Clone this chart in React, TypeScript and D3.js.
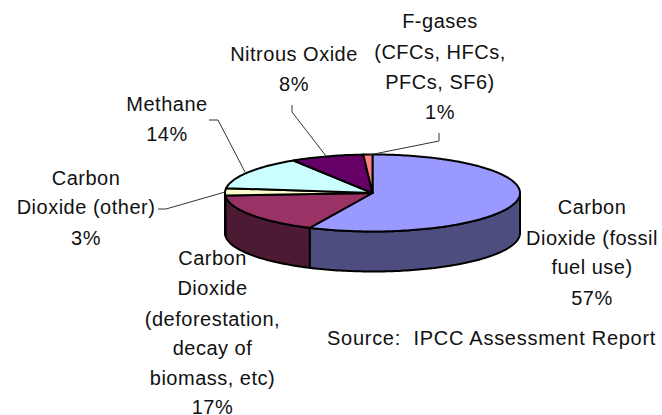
import React from "react";
import * as d3 from "d3";

const names = ["Carbon Dioxide (fossil fuel use)", "Carbon Dioxide (deforestation, decay of biomass, etc)", "Carbon Dioxide (other)", "Methane", "Nitrous Oxide", "F-gases (CFCs, HFCs, PFCs, SF6)"];
const shares = [57, 17, 3, 14, 8, 1];
const topColors = ["#9999ff", "#993366", "#ffffcc", "#ccffff", "#660066", "#ff8080"];
const sideColors = ["#4d4d80", "#4d1a33", "#808066", "#668080", "#330033", "#804040"];

const labelLines = [
  { x: 592, ys: [214, 245, 274, 305], lines: ["Carbon", "Dioxide (fossil", "fuel use)", "57%"] },
  { x: 212.5, ys: [265, 295, 326, 355, 385, 414], lines: ["Carbon", "Dioxide", "(deforestation,", "decay of", "biomass, etc)", "17%"] },
  { x: 86, ys: [185, 214, 245], lines: ["Carbon", "Dioxide (other)", "3%"] },
  { x: 167, ys: [111, 141], lines: ["Methane", "14%"] },
  { x: 294, ys: [61, 91], lines: ["Nitrous Oxide", "8%"] },
  { x: 440, ys: [28, 59, 89, 119], lines: ["F-gases", "(CFCs, HFCs,", "PFCs, SF6)", "1%"] },
];
const leaderLines: [number, number][][] = [
  [[209, 120], [218, 120], [245, 172]],
  [[292, 105], [292, 112], [326, 156]],
  [[439, 133], [439, 141], [369, 155]],
  [[158, 209], [166, 209], [225, 192]],
];

const cx = 372.5, cy = 193, rx = 147.5, ry = 38.5, depth = 40;

const pt = (a: number, dy = 0): [number, number] => [cx + rx * Math.sin(a), cy - ry * Math.cos(a) + dy];
const lineGen = d3.line();

function sweep(a0: number, a1: number, dy = 0) {
  const n = Math.max(2, Math.ceil((a1 - a0) / 0.02));
  return d3.range(n + 1).map((i) => pt(a0 + ((a1 - a0) * i) / n, dy));
}

export default function App() {
  const arcs = d3.pie<number>().sort(null)(shares);
  const fontFamily = "'Liberation Sans', Arial, sans-serif";
  return (
    <svg width={662} height={415} style={{ position: "absolute", left: 0, top: 0, background: "#fff" }}>
      {arcs.map((a, i) => {
        const s = Math.max(a.startAngle, Math.PI / 2);
        const e = Math.min(a.endAngle, (3 * Math.PI) / 2);
        if (e <= s) return null;
        const pts = [...sweep(s, e), ...sweep(s, e, depth).reverse()];
        return <path key={names[i]} d={lineGen(pts) + "Z"} fill={sideColors[i]} stroke="#000" strokeWidth={2} strokeLinejoin="round" />;
      })}
      {arcs.map((a, i) => (
        <path key={names[i]} d={lineGen([[cx, cy], ...sweep(a.startAngle, a.endAngle)]) + "Z"} fill={topColors[i]} stroke="#000" strokeWidth={2} strokeLinejoin="round" />
      ))}
      {leaderLines.map((l, i) => (
        <path key={i} d={lineGen(l) ?? ""} fill="none" stroke="#333" strokeWidth={1} />
      ))}
      {labelLines.map((g, i) =>
        g.lines.map((t, j) => (
          <text key={i + "-" + j} x={g.x} y={g.ys[j]} textAnchor="middle" fontFamily={fontFamily} fontSize={20} letterSpacing={0.5} fill="#111">{t}</text>
        ))
      )}
      <text x={327} y={345} fontFamily={fontFamily} fontSize={20} letterSpacing={0.72} fill="#111" xmlSpace="preserve">Source:  IPCC Assessment Report</text>
    </svg>
  );
}
